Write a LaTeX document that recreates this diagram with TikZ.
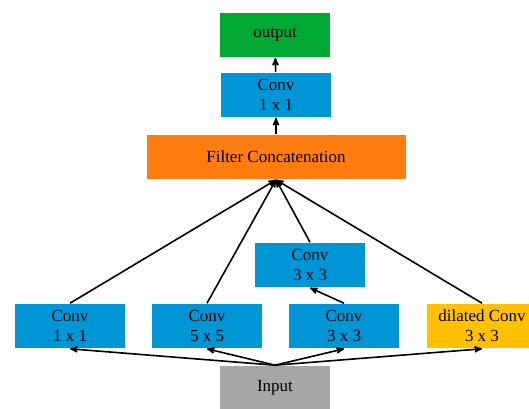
\documentclass[tikz,border=0pt]{standalone}
\usepackage{fontspec}
\setmainfont{Liberation Serif}
\usetikzlibrary{arrows,positioning}
\definecolor{convblue}{RGB}{0,150,214}
\definecolor{outgreen}{RGB}{0,170,50}
\definecolor{catorange}{RGB}{255,125,15}
\definecolor{dilyellow}{RGB}{255,192,0}
\definecolor{ingray}{RGB}{166,166,166}

\begin{document}
\begin{tikzpicture}[x=1pt,y=-1pt,>=stealth',line width=1.6pt,
                    box/.style={minimum width=110pt,minimum height=44pt,inner sep=0pt,
                                align=center,font=\fontsize{17}{20}\selectfont},
                    conv/.style={box,fill=convblue}]
  \useasboundingbox (0,0) rectangle (529,408);
  \clip (0,0) rectangle (529,408);
  \node[box,fill=outgreen] (out) at (275,35) {output};
  \node[conv] (top) at (276,95) {Conv\\1 x 1};
  \node[box,fill=catorange,minimum width=259pt] (cat) at (276,157) {Filter Concatenation};
  \node[conv] (c33b) at (310,265) {Conv\\3 x 3};
  \node[conv] (c11) at (70,326) {Conv\\1 x 1};
  \node[conv] (c55) at (207,326) {Conv\\5 x 5};
  \node[conv] (c33a) at (344,326) {Conv\\3 x 3};
  \node[box,fill=dilyellow] (dil) at (482,326) {dilated Conv\\3 x 3};
  \node[box,fill=ingray] (in) at (275,388) {Input};
  \path
    (in.north) edge [->] (c11.south)
    (in.north) edge [->] (c55.south)
    (in.north) edge [->] (c33a.south)
    (in.north) edge [->] (dil.south)
    (c33a.north) edge [->] (c33b.south)
    (c11.north) edge [->] (cat.south)
    (c55.north) edge [->] (cat.south)
    (c33b.north) edge [->] (cat.south)
    (dil.north) edge [->] (cat.south)
    (cat) edge [->] (top)
    (top) edge [->] (out)
    ;
\end{tikzpicture}
\end{document}
